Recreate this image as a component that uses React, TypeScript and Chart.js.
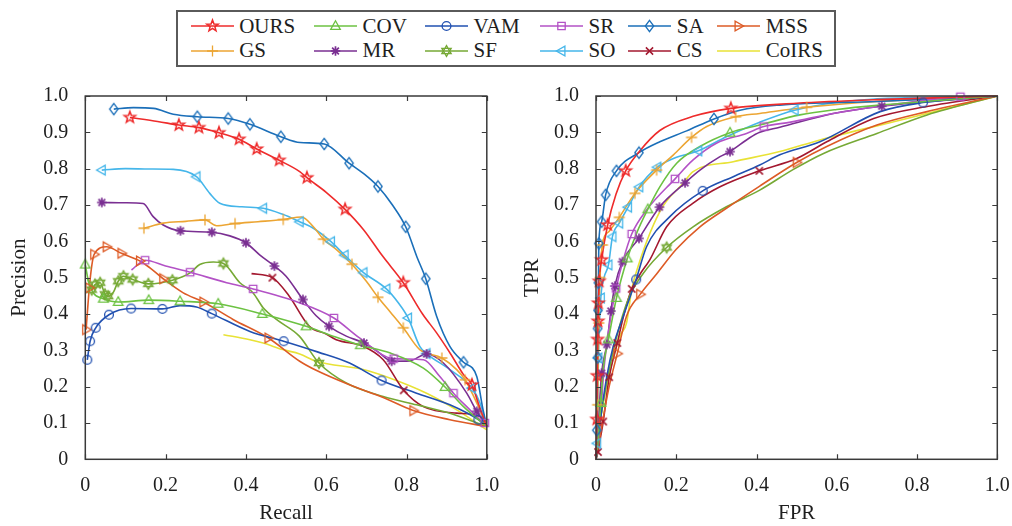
import React, { useEffect, useRef } from 'react';
import { Chart, registerables } from 'chart.js';
Chart.register(...registerables);

type P = [number, number];

const methods = ['OURS', 'COV', 'VAM', 'SR', 'SA', 'MSS', 'GS', 'MR', 'SF', 'SO', 'CS', 'CoIRS'];
const colors = ['#ee2b2b', '#6cc242', '#2150b0', '#b352c6', '#1b6fb9', '#dd5b26', '#eca533', '#7a2f92', '#76a935', '#45b6ea', '#a3182f', '#e8e236'];
const markerTypes = ['pentagram', 'triUp', 'circle', 'square', 'diamond', 'triRight', 'plus', 'asterisk', 'hexagram', 'triLeft', 'x', ''];

const xTickValues = [0, 0.2, 0.4, 0.6, 0.8, 1.0];
const yTickValues = [0, 0.1, 0.2, 0.3, 0.4, 0.5, 0.6, 0.7, 0.8, 0.9, 1.0];

// ---------- Precision-Recall curves ----------
const prOURS: P[] = [[0.111,0.941],[0.18,0.93],[0.233,0.92],[0.283,0.913],[0.333,0.899],[0.383,0.881],[0.427,0.854],[0.483,0.823],[0.534,0.792],[0.552,0.775],[0.6,0.735],[0.647,0.688],[0.693,0.632],[0.74,0.56],[0.792,0.486],[0.84,0.4],[0.875,0.348],[0.91,0.29],[0.942,0.233],[0.963,0.205],[0.98,0.15],[1.0,0.09]];
const prOURSMk: P[] = [[0.111,0.941],[0.233,0.92],[0.283,0.913],[0.333,0.899],[0.383,0.881],[0.427,0.854],[0.483,0.823],[0.552,0.775],[0.647,0.688],[0.792,0.486],[0.963,0.205]];
const prCOV: P[] = [[0.0,0.536],[0.007,0.495],[0.02,0.458],[0.045,0.442],[0.082,0.433],[0.158,0.438],[0.236,0.435],[0.331,0.428],[0.441,0.4],[0.55,0.366],[0.617,0.339],[0.685,0.314],[0.758,0.293],[0.842,0.251],[0.896,0.199],[0.942,0.145],[1.0,0.09]];
const prCOVMk: P[] = [[0.0,0.536],[0.045,0.442],[0.082,0.433],[0.158,0.438],[0.236,0.435],[0.331,0.428],[0.441,0.4],[0.55,0.366],[0.685,0.314],[0.896,0.199]];
const prVAM: P[] = [[0.005,0.274],[0.012,0.325],[0.026,0.362],[0.059,0.398],[0.114,0.415],[0.192,0.414],[0.236,0.423],[0.277,0.419],[0.315,0.401],[0.41,0.352],[0.494,0.325],[0.58,0.295],[0.658,0.265],[0.738,0.217],[0.825,0.182],[0.908,0.15],[0.979,0.109],[1.0,0.09]];
const prVAMMk: P[] = [[0.005,0.274],[0.012,0.325],[0.026,0.362],[0.059,0.398],[0.114,0.415],[0.192,0.414],[0.315,0.401],[0.494,0.325],[0.738,0.217],[0.979,0.109]];
const prSR: P[] = [[0.115,0.521],[0.149,0.548],[0.2,0.532],[0.261,0.515],[0.352,0.486],[0.418,0.469],[0.533,0.431],[0.619,0.389],[0.683,0.334],[0.768,0.277],[0.842,0.274],[0.883,0.228],[0.917,0.182],[0.958,0.136],[1.0,0.09]];
const prSRMk: P[] = [[0.149,0.548],[0.261,0.515],[0.418,0.469],[0.619,0.389],[0.768,0.277],[0.917,0.182],[0.995,0.1]];
const prSA: P[] = [[0.071,0.964],[0.12,0.968],[0.17,0.966],[0.219,0.95],[0.279,0.943],[0.356,0.938],[0.41,0.922],[0.487,0.888],[0.535,0.872],[0.595,0.868],[0.657,0.815],[0.695,0.785],[0.729,0.751],[0.765,0.7],[0.798,0.64],[0.826,0.557],[0.848,0.497],[0.875,0.394],[0.908,0.311],[0.942,0.267],[0.975,0.228],[0.99,0.14],[1.0,0.09]];
const prSAMk: P[] = [[0.071,0.964],[0.279,0.943],[0.356,0.938],[0.41,0.922],[0.487,0.888],[0.595,0.868],[0.657,0.815],[0.729,0.751],[0.798,0.64],[0.848,0.497],[0.942,0.267]];
const prMSS: P[] = [[0.002,0.357],[0.01,0.472],[0.016,0.532],[0.022,0.564],[0.053,0.585],[0.09,0.567],[0.136,0.546],[0.161,0.527],[0.194,0.497],[0.244,0.458],[0.294,0.433],[0.368,0.385],[0.456,0.334],[0.534,0.27],[0.575,0.245],[0.658,0.205],[0.742,0.17],[0.817,0.134],[0.908,0.109],[1.0,0.09]];
const prMSSMk: P[] = [[0.002,0.357],[0.01,0.472],[0.022,0.564],[0.053,0.585],[0.09,0.567],[0.136,0.546],[0.194,0.497],[0.294,0.433],[0.456,0.334],[0.817,0.134]];
const prGS: P[] = [[0.146,0.636],[0.194,0.65],[0.25,0.655],[0.298,0.659],[0.327,0.643],[0.373,0.649],[0.43,0.654],[0.493,0.66],[0.539,0.667],[0.568,0.64],[0.593,0.606],[0.627,0.576],[0.664,0.537],[0.7,0.49],[0.729,0.446],[0.76,0.405],[0.792,0.362],[0.833,0.302],[0.888,0.279],[0.925,0.247],[0.946,0.219],[0.975,0.155],[1.0,0.09]];
const prGSMk: P[] = [[0.146,0.636],[0.298,0.659],[0.373,0.649],[0.493,0.66],[0.593,0.606],[0.664,0.537],[0.729,0.446],[0.792,0.362],[0.888,0.279],[0.946,0.219]];
const prMR: P[] = [[0.041,0.707],[0.1,0.706],[0.144,0.704],[0.169,0.668],[0.194,0.645],[0.237,0.629],[0.315,0.625],[0.36,0.615],[0.4,0.596],[0.435,0.562],[0.471,0.532],[0.5,0.504],[0.542,0.44],[0.575,0.395],[0.607,0.366],[0.65,0.339],[0.694,0.32],[0.73,0.295],[0.763,0.27],[0.808,0.271],[0.85,0.29],[0.892,0.265],[0.95,0.182],[0.975,0.132],[1.0,0.09]];
const prMRMk: P[] = [[0.041,0.707],[0.237,0.629],[0.315,0.625],[0.4,0.596],[0.471,0.532],[0.542,0.44],[0.607,0.366],[0.694,0.32],[0.763,0.27],[0.85,0.29],[0.975,0.132]];
const prSF: P[] = [[0.005,0.5],[0.016,0.467],[0.024,0.481],[0.037,0.486],[0.049,0.454],[0.057,0.449],[0.07,0.46],[0.082,0.49],[0.095,0.504],[0.118,0.495],[0.157,0.483],[0.217,0.493],[0.261,0.513],[0.285,0.536],[0.319,0.543],[0.344,0.539],[0.385,0.486],[0.418,0.458],[0.443,0.417],[0.476,0.385],[0.533,0.339],[0.582,0.265],[0.65,0.21],[0.742,0.173],[0.825,0.15],[0.908,0.127],[1.0,0.09]];
const prSFMk: P[] = [[0.016,0.467],[0.024,0.481],[0.037,0.486],[0.049,0.454],[0.057,0.449],[0.082,0.49],[0.095,0.504],[0.118,0.495],[0.157,0.483],[0.217,0.493],[0.344,0.539],[0.582,0.265]];
const prSO: P[] = [[0.041,0.796],[0.1,0.8],[0.16,0.799],[0.219,0.798],[0.277,0.778],[0.31,0.732],[0.335,0.705],[0.39,0.695],[0.443,0.691],[0.49,0.675],[0.534,0.654],[0.568,0.636],[0.612,0.599],[0.646,0.562],[0.693,0.514],[0.75,0.469],[0.78,0.43],[0.804,0.389],[0.833,0.311],[0.85,0.291],[0.908,0.247],[0.963,0.196],[0.983,0.155],[1.0,0.09]];
const prSOMk: P[] = [[0.041,0.796],[0.277,0.778],[0.443,0.691],[0.534,0.654],[0.612,0.599],[0.646,0.562],[0.693,0.514],[0.75,0.469],[0.804,0.389],[0.85,0.291],[0.963,0.196]];
const prCS: P[] = [[0.414,0.511],[0.466,0.5],[0.508,0.449],[0.558,0.366],[0.6,0.345],[0.625,0.329],[0.692,0.311],[0.742,0.274],[0.793,0.19],[0.842,0.145],[0.925,0.127],[0.983,0.118],[1.0,0.09]];
const prCSMk: P[] = [[0.466,0.5],[0.793,0.19]];
const prCoIRS: P[] = [[0.344,0.343],[0.41,0.329],[0.443,0.32],[0.492,0.302],[0.534,0.29],[0.575,0.27],[0.692,0.247],[0.758,0.224],[0.85,0.182],[0.925,0.136],[1.0,0.081]];
const prCoIRSMk: P[] = [];

// ---------- ROC curves ----------
const rocOURS: P[] = [[0,0],[0.001,0.03],[0.002,0.11],[0.003,0.23],[0.004,0.33],[0.005,0.38],[0.006,0.43],[0.008,0.49],[0.014,0.549],[0.029,0.645],[0.05,0.73],[0.074,0.794],[0.107,0.846],[0.159,0.905],[0.242,0.944],[0.336,0.966],[0.5,0.98],[0.7,0.99],[1,1]];
const rocOURSMk: P[] = [[0.002,0.11],[0.003,0.23],[0.004,0.33],[0.005,0.38],[0.006,0.43],[0.008,0.49],[0.014,0.549],[0.029,0.645],[0.074,0.794],[0.336,0.966]];
const rocCOV: P[] = [[0,0],[0.005,0.05],[0.012,0.155],[0.018,0.25],[0.031,0.33],[0.051,0.444],[0.078,0.553],[0.101,0.622],[0.129,0.688],[0.159,0.75],[0.201,0.815],[0.259,0.861],[0.334,0.899],[0.408,0.92],[0.508,0.948],[0.6,0.963],[0.708,0.975],[1,1]];
const rocCOVMk: P[] = [[0.012,0.155],[0.031,0.33],[0.051,0.444],[0.078,0.553],[0.129,0.688],[0.334,0.899]];
const rocVAM: P[] = [[0,0],[0.01,0.1],[0.027,0.228],[0.043,0.311],[0.068,0.394],[0.1,0.495],[0.126,0.585],[0.184,0.668],[0.266,0.739],[0.342,0.778],[0.408,0.81],[0.458,0.838],[0.558,0.874],[0.708,0.957],[0.815,0.982],[1,1]];
const rocVAMMk: P[] = [[0.1,0.495],[0.266,0.739],[0.815,0.982]];
const rocSR: P[] = [[0,0],[0.01,0.1],[0.02,0.25],[0.035,0.38],[0.05,0.47],[0.068,0.549],[0.089,0.62],[0.126,0.686],[0.197,0.772],[0.242,0.824],[0.3,0.87],[0.375,0.897],[0.418,0.916],[0.485,0.928],[0.591,0.952],[0.708,0.972],[0.908,0.998],[1,1]];
const rocSRMk: P[] = [[0.05,0.47],[0.089,0.62],[0.197,0.772],[0.418,0.916],[0.908,0.998]];
const rocSA: P[] = [[0,0],[0.002,0.08],[0.003,0.21],[0.004,0.36],[0.005,0.41],[0.006,0.486],[0.007,0.594],[0.014,0.654],[0.024,0.728],[0.051,0.794],[0.107,0.844],[0.159,0.874],[0.226,0.904],[0.294,0.937],[0.359,0.961],[0.458,0.975],[0.7,0.985],[1,1]];
const rocSAMk: P[] = [[0.002,0.08],[0.004,0.28],[0.004,0.36],[0.005,0.41],[0.006,0.486],[0.007,0.594],[0.014,0.654],[0.024,0.728],[0.051,0.794],[0.107,0.844],[0.294,0.937]];
const rocMSS: P[] = [[0,0],[0.01,0.063],[0.031,0.191],[0.053,0.291],[0.076,0.394],[0.11,0.454],[0.151,0.51],[0.2,0.578],[0.259,0.64],[0.325,0.691],[0.408,0.752],[0.5,0.817],[0.575,0.861],[0.7,0.92],[0.825,0.957],[1,1]];
const rocMSSMk: P[] = [[0.053,0.291],[0.11,0.454],[0.5,0.817]];
const rocGS: P[] = [[0,0],[0.002,0.05],[0.004,0.15],[0.007,0.375],[0.01,0.5],[0.016,0.59],[0.033,0.628],[0.058,0.666],[0.097,0.732],[0.151,0.796],[0.193,0.838],[0.238,0.886],[0.276,0.916],[0.348,0.943],[0.408,0.952],[0.525,0.969],[0.7,0.985],[1,1]];
const rocGSMk: P[] = [[0.004,0.15],[0.007,0.375],[0.01,0.5],[0.016,0.59],[0.058,0.666],[0.097,0.732],[0.151,0.796],[0.238,0.886],[0.348,0.943],[0.525,0.969]];
const rocMR: P[] = [[0,0],[0.006,0.1],[0.014,0.237],[0.027,0.316],[0.037,0.408],[0.047,0.477],[0.066,0.544],[0.107,0.608],[0.158,0.694],[0.222,0.761],[0.259,0.796],[0.309,0.833],[0.334,0.847],[0.383,0.885],[0.408,0.9],[0.458,0.914],[0.591,0.952],[0.712,0.972],[1,1]];
const rocMRMk: P[] = [[0.014,0.237],[0.027,0.316],[0.037,0.408],[0.047,0.477],[0.066,0.544],[0.107,0.608],[0.158,0.694],[0.222,0.761],[0.334,0.847],[0.712,0.972]];
const rocSF: P[] = [[0,0],[0.01,0.1],[0.025,0.2],[0.05,0.33],[0.08,0.44],[0.118,0.512],[0.176,0.583],[0.242,0.64],[0.325,0.695],[0.408,0.741],[0.492,0.798],[0.567,0.842],[0.7,0.897],[0.825,0.948],[1,1]];
const rocSFMk: P[] = [[0.176,0.583]];
const rocSO: P[] = [[0,0],[0.003,0.044],[0.006,0.279],[0.012,0.444],[0.02,0.5],[0.031,0.535],[0.041,0.613],[0.058,0.65],[0.08,0.694],[0.108,0.75],[0.153,0.804],[0.193,0.828],[0.255,0.849],[0.325,0.888],[0.408,0.928],[0.495,0.961],[0.658,0.989],[1,1]];
const rocSOMk: P[] = [[0.003,0.044],[0.006,0.279],[0.012,0.444],[0.031,0.535],[0.041,0.613],[0.058,0.65],[0.08,0.694],[0.108,0.75],[0.153,0.804],[0.255,0.849],[0.495,0.961]];
const rocCS: P[] = [[0,0],[0.005,0.02],[0.008,0.04],[0.018,0.104],[0.033,0.226],[0.053,0.32],[0.07,0.4],[0.089,0.469],[0.11,0.51],[0.134,0.549],[0.176,0.64],[0.242,0.705],[0.309,0.75],[0.407,0.794],[0.5,0.828],[0.575,0.874],[0.692,0.938],[0.825,0.971],[1,1]];
const rocCSMk: P[] = [[0.005,0.02],[0.018,0.104],[0.033,0.226],[0.053,0.32],[0.089,0.469],[0.407,0.794]];
const rocCoIRS: P[] = [[0,0],[0.01,0.1],[0.03,0.22],[0.06,0.34],[0.076,0.375],[0.089,0.467],[0.097,0.503],[0.159,0.682],[0.217,0.76],[0.242,0.792],[0.342,0.819],[0.458,0.847],[0.558,0.879],[0.742,0.929],[1,1]];
const rocCoIRSMk: P[] = [];

const prLines = [prOURS, prCOV, prVAM, prSR, prSA, prMSS, prGS, prMR, prSF, prSO, prCS, prCoIRS];
const prMarks = [prOURSMk, prCOVMk, prVAMMk, prSRMk, prSAMk, prMSSMk, prGSMk, prMRMk, prSFMk, prSOMk, prCSMk, prCoIRSMk];
const rocLines = [rocOURS, rocCOV, rocVAM, rocSR, rocSA, rocMSS, rocGS, rocMR, rocSF, rocSO, rocCS, rocCoIRS];
const rocMarks = [rocOURSMk, rocCOVMk, rocVAMMk, rocSRMk, rocSAMk, rocMSSMk, rocGSMk, rocMRMk, rocSFMk, rocSOMk, rocCSMk, rocCoIRSMk];

const FONT = "'Liberation Serif', Tinos, 'Times New Roman', 'DejaVu Serif', serif";
const TEXT = '#1e1e1e';

function drawMarker(ctx: CanvasRenderingContext2D, type: string, cx: number, cy: number, color: string) {
  ctx.save();
  ctx.strokeStyle = color;
  ctx.fillStyle = color;
  ctx.lineWidth = 1.3;
  ctx.beginPath();
  const poly = (pts: number[][]) => {
    pts.forEach(([x, y], k) => (k === 0 ? ctx.moveTo(cx + x, cy + y) : ctx.lineTo(cx + x, cy + y)));
    ctx.closePath();
  };
  switch (type) {
    case 'pentagram': {
      const pts: number[][] = [];
      for (let k = 0; k < 10; k++) {
        const a = -Math.PI / 2 + (k * Math.PI) / 5;
        const r = k % 2 === 0 ? 6 : 2.5;
        pts.push([r * Math.cos(a), r * Math.sin(a)]);
      }
      poly(pts);
      ctx.lineWidth = 1.5;
      ctx.stroke();
      break;
    }
    case 'triUp': poly([[0, -5.2], [4.8, 3.4], [-4.8, 3.4]]); ctx.stroke(); break;
    case 'triRight': poly([[5.2, 0], [-3.4, -4.8], [-3.4, 4.8]]); ctx.stroke(); break;
    case 'triLeft': poly([[-5.2, 0], [3.4, -4.8], [3.4, 4.8]]); ctx.stroke(); break;
    case 'circle': ctx.arc(cx, cy, 4.4, 0, Math.PI * 2); ctx.stroke(); break;
    case 'square': ctx.rect(cx - 3.7, cy - 3.7, 7.4, 7.4); ctx.stroke(); break;
    case 'diamond': poly([[0, -5.6], [4.2, 0], [0, 5.6], [-4.2, 0]]); ctx.stroke(); break;
    case 'plus':
      ctx.moveTo(cx - 5.5, cy); ctx.lineTo(cx + 5.5, cy);
      ctx.moveTo(cx, cy - 5.5); ctx.lineTo(cx, cy + 5.5);
      ctx.stroke(); break;
    case 'x':
      ctx.moveTo(cx - 3.6, cy - 3.6); ctx.lineTo(cx + 3.6, cy + 3.6);
      ctx.moveTo(cx + 3.6, cy - 3.6); ctx.lineTo(cx - 3.6, cy + 3.6);
      ctx.lineWidth = 1.5; ctx.stroke(); break;
    case 'asterisk':
      for (let k = 0; k < 4; k++) {
        const a = (k * Math.PI) / 4;
        ctx.moveTo(cx - 4.8 * Math.cos(a), cy - 4.8 * Math.sin(a));
        ctx.lineTo(cx + 4.8 * Math.cos(a), cy + 4.8 * Math.sin(a));
      }
      ctx.lineWidth = 1.7; ctx.stroke(); break;
    case 'hexagram': {
      const r = 5.4;
      const tri = (off: number) => {
        const pts: number[][] = [];
        for (let k = 0; k < 3; k++) {
          const a = off + (k * 2 * Math.PI) / 3;
          pts.push([r * Math.cos(a), r * Math.sin(a)]);
        }
        poly(pts);
      };
      tri(-Math.PI / 2);
      tri(Math.PI / 2);
      ctx.stroke();
      break;
    }
    default: break;
  }
  ctx.restore();
}

function makeMarkerImage(type: string, color: string): HTMLCanvasElement {
  const c = document.createElement('canvas');
  c.width = 18; c.height = 18;
  const ctx = c.getContext('2d')!;
  drawMarker(ctx, type, 9, 9, color);
  return c;
}

function tickLabel(v: number) {
  return v === 0 ? '0' : Number(v).toFixed(1);
}

const framePlugin = {
  id: 'frameTicks',
  afterDatasetsDraw(chart: any) {
    const { ctx, chartArea: a, scales } = chart;
    ctx.save();
    ctx.strokeStyle = '#3a3a3a';
    ctx.lineWidth = 1.5;
    ctx.strokeRect(a.left, a.top, a.right - a.left, a.bottom - a.top);
    ctx.lineWidth = 1.2;
    ctx.beginPath();
    for (const v of xTickValues) {
      const px = Math.round(scales.x.getPixelForValue(v)) + 0.5;
      ctx.moveTo(px, a.bottom); ctx.lineTo(px, a.bottom - 5);
      ctx.moveTo(px, a.top); ctx.lineTo(px, a.top + 5);
    }
    for (const v of yTickValues) {
      const py = Math.round(scales.y.getPixelForValue(v)) + 0.5;
      ctx.moveTo(a.left, py); ctx.lineTo(a.left + 5, py);
      ctx.moveTo(a.right, py); ctx.lineTo(a.right - 5, py);
    }
    ctx.stroke();
    ctx.restore();
  },
};

function makeConfig(lines: P[][], marks: P[][], imgs: (HTMLCanvasElement | null)[], xTitle: string, yTitle: string, yAxisW: number, padRight: number, yTitlePad: number): any {
  const datasets: any[] = [];
  for (let i = 0; i < methods.length; i++) {
    if (imgs[i] && marks[i].length) {
      datasets.push({
        label: methods[i] + ' markers',
        data: marks[i].map(([x, y]) => ({ x, y })),
        showLine: false,
        pointStyle: imgs[i],
        pointRadius: 5,
        pointHoverRadius: 5,
        borderColor: colors[i],
        backgroundColor: colors[i],
        clip: false,
      });
    }
  }
  for (let i = 0; i < methods.length; i++) {
    datasets.push({
      label: methods[i],
      data: lines[i].map(([x, y]) => ({ x, y })),
      showLine: true,
      borderColor: colors[i],
      backgroundColor: colors[i],
      borderWidth: 1.6,
      pointRadius: 0,
      pointHoverRadius: 0,
      fill: false,
      cubicInterpolationMode: 'monotone',
      clip: 4,
    });
  }
  return {
    type: 'scatter',
    data: { datasets },
    plugins: [framePlugin],
    options: {
      animation: false,
      responsive: false,
      events: [],
      layout: { padding: { top: 20, right: padRight, left: 0, bottom: 0 } },
      plugins: { legend: { display: false }, tooltip: { enabled: false } },
      scales: {
        x: {
          type: 'linear', min: 0, max: 1,
          grid: { display: false, drawTicks: false },
          border: { display: false },
          afterBuildTicks: (s: any) => { s.ticks = xTickValues.map((v) => ({ value: v })); },
          afterFit: (s: any) => { s.height = 66.7; s.paddingLeft = 0; s.paddingRight = 0; },
          ticks: { callback: (v: any) => tickLabel(v), font: { family: FONT, size: 20 }, color: TEXT, padding: 14, maxRotation: 0, autoSkip: false },
          title: { display: true, text: xTitle, font: { family: FONT, size: 21 }, color: TEXT, padding: { top: 0, bottom: 0 } },
        },
        y: {
          type: 'linear', min: 0, max: 1,
          grid: { display: false, drawTicks: false },
          border: { display: false },
          afterBuildTicks: (s: any) => { s.ticks = yTickValues.map((v) => ({ value: v })); },
          afterFit: (s: any) => { s.width = yAxisW; s.paddingTop = 0; s.paddingBottom = 0; },
          ticks: { callback: (v: any) => tickLabel(v), font: { family: FONT, size: 20 }, color: TEXT, padding: 17, autoSkip: false },
          title: { display: true, text: yTitle, font: { family: FONT, size: 21 }, color: TEXT, padding: { top: yTitlePad, bottom: 0 } },
        },
      },
    },
  };
}

const legendCols = [190.7, 314, 425, 540, 628.3, 717.3];
const legendRows = [26, 50.7];

export default function App() {
  const leftRef = useRef<HTMLCanvasElement>(null);
  const rightRef = useRef<HTMLCanvasElement>(null);
  const legendRefs = useRef<(HTMLCanvasElement | null)[]>([]);

  useEffect(() => {
    const imgs = methods.map((_, i) => (markerTypes[i] ? makeMarkerImage(markerTypes[i], colors[i]) : null));
    const c1 = new Chart(leftRef.current!, makeConfig(prLines, prMarks, imgs, 'Recall', 'Precision', 85.3, 19.2, 6.5));
    const c2 = new Chart(rightRef.current!, makeConfig(rocLines, rocMarks, imgs, 'FPR', 'TPR', 90, 14.7, 13.4));
    legendRefs.current.forEach((cv, i) => {
      if (!cv) return;
      const ctx = cv.getContext('2d')!;
      ctx.clearRect(0, 0, cv.width, cv.height);
      ctx.strokeStyle = colors[i];
      ctx.lineWidth = 1.6;
      ctx.beginPath();
      ctx.moveTo(0, 10);
      ctx.lineTo(43, 10);
      ctx.stroke();
      if (markerTypes[i]) drawMarker(ctx, markerTypes[i], 21.5, 10, colors[i]);
    });
    return () => { c1.destroy(); c2.destroy(); };
  }, []);

  return (
    <div style={{ position: 'absolute', left: 0, top: 0, width: 1012, height: 526, background: '#fff', overflow: 'hidden' }}>
      <div style={{ position: 'absolute', left: 176, top: 10, width: 660, height: 57, boxSizing: 'border-box', border: '2px solid #5a5a5a' }} />
      {methods.map((m, i) => {
        const col = i % 6;
        const row = Math.floor(i / 6);
        const x = legendCols[col];
        const y = legendRows[row];
        return (
          <React.Fragment key={m}>
            <canvas
              ref={(el) => { legendRefs.current[i] = el; }}
              width={44}
              height={20}
              style={{ position: 'absolute', left: x, top: y - 10, width: 44, height: 20 }}
            />
            <span style={{ position: 'absolute', left: x + 48.5, top: y - 10.5, fontFamily: FONT, fontSize: 21, lineHeight: '21px', color: TEXT, whiteSpace: 'nowrap' }}>{m}</span>
          </React.Fragment>
        );
      })}
      <canvas ref={leftRef} width={506} height={450} style={{ position: 'absolute', left: 0, top: 76, width: 506, height: 450 }} />
      <canvas ref={rightRef} width={506} height={450} style={{ position: 'absolute', left: 506, top: 76, width: 506, height: 450 }} />
    </div>
  );
}
